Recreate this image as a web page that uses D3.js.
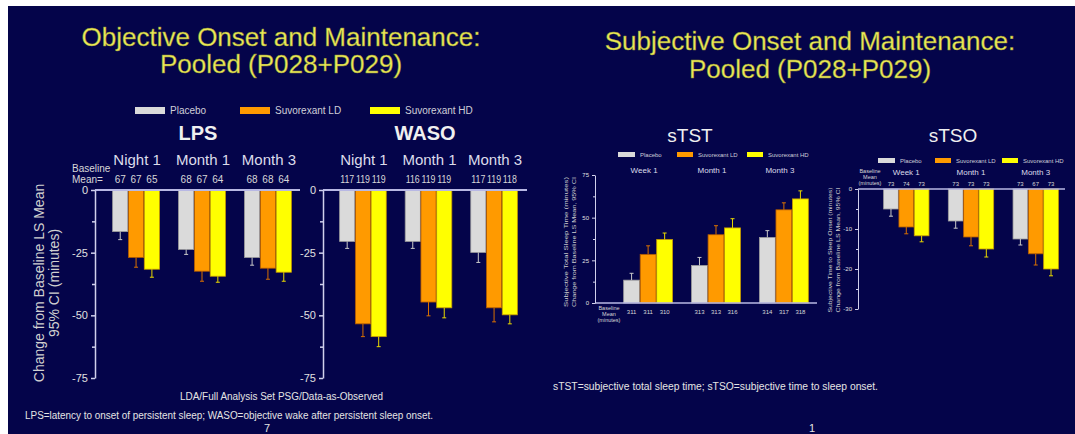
<!DOCTYPE html>
<html>
<head>
<meta charset="utf-8">
<script src="https://cdn.jsdelivr.net/npm/d3@7"></script>
<style>
  body { margin: 0; background: #ffffff; }
  svg { display: block; font-family: "Liberation Sans", Arial, sans-serif; }
</style>
</head>
<body>
<svg id="chart" width="1075" height="434"></svg>
<script>
// ---- data ----
const series = ["Placebo", "Suvorexant LD", "Suvorexant HD"];
const objPeriods = ["Night 1", "Month 1", "Month 3"];
const subjPeriods = ["Week 1", "Month 1", "Month 3"];

// LS mean change from baseline, one row per period: [placebo, LD, HD]
const lpsMean  = [[-16.6, -26.9, -31.6], [-23.7, -32.4, -34.4], [-26.9, -31.2, -32.8]];
const lpsCI    = [[-19.8, -30.8, -34.8], [-25.7, -36.4, -36.8], [-30.0, -35.6, -36.4]];
const lpsBase  = [["67", "67", "65"], ["68", "67", "64"], ["68", "68", "64"]];

const wasoMean = [[-20.5, -53.4, -58.5], [-20.5, -44.7, -47.0], [-24.9, -47.0, -49.8]];
const wasoCI   = [[-23.3, -58.5, -62.5], [-23.3, -50.2, -51.0], [-28.9, -52.6, -53.4]];
const wasoBase = [["117", "119", "119"], ["116", "119", "119"], ["117", "119", "118"]];

const tstMean  = [[13.4, 28.5, 37.2], [22.0, 40.0, 44.0], [38.4, 54.6, 61.0]];
const tstCI    = [[17.4, 33.5, 41.0], [26.7, 45.3, 49.4], [42.4, 58.7, 65.7]];
const tstBase  = [["311", "311", "310"], ["313", "313", "316"], ["314", "317", "318"]];

const tsoMean  = [[-5.0, -9.5, -11.7], [-8.0, -12.0, -15.0], [-12.5, -16.2, -20.0]];
const tsoCI    = [[-6.8, -11.2, -13.2], [-9.8, -14.2, -17.0], [-14.0, -19.0, -21.7]];
const tsoBase  = [["73", "74", "73"], ["73", "73", "73"], ["73", "67", "73"]];

const objTicks = [0, -25, -50, -75];
const objMinor = [-12.5, -37.5, -62.5];
const tstTicks = [0, 25, 50, 75];
const tstMinor = [12.5, 37.5, 62.5];
const tsoTicks = [0, -10, -20, -30];
const tsoMinor = [-5, -15, -25];

// ---- styling ----
const fills   = ["#dadada", "#ff9a00", "#ffff00"];
const edges   = ["#9c9c9c", "#b05a00", "#c89a00"];
const whisker = ["#c8c8c8", "#d87000", "#e8d800"];
const navy = "#04044a";
const axisCol = "#d0d0ec";

const svg = d3.select("#chart");

// slide background with the thin white scan border
svg.append("rect").attr("width", 1075).attr("height", 434).attr("fill", "#ffffff");
svg.append("rect").attr("x", 8).attr("y", 6).attr("width", 1067).attr("height", 428).attr("fill", navy);

// titles
function title(lines, cx, ys) {
  lines.forEach((t, i) => {
    svg.append("text")
      .attr("x", cx).attr("y", ys[i])
      .attr("text-anchor", "middle")
      .attr("font-size", 26)
      .attr("fill", "#ecea58")
      .attr("stroke", "#8a8a30").attr("stroke-width", 0.4)
      .text(t);
  });
}
title(["Objective Onset and Maintenance:", "Pooled (P028+P029)"], 281, [46, 73]);
title(["Subjective Onset and Maintenance:", "Pooled (P028+P029)"], 810, [50, 78]);

// legends
function legend(items) {
  items.forEach((d, i) => {
    svg.append("rect")
      .attr("x", d.x).attr("y", d.y).attr("width", d.w).attr("height", d.h)
      .attr("fill", fills[i]);
    svg.append("text")
      .attr("x", d.x + d.w + 5).attr("y", d.y + d.h)
      .attr("font-size", d.fs).attr("fill", "#cfcfd8")
      .text(series[i]);
  });
}
legend([{ x: 135, y: 107, w: 30, h: 7, fs: 10 }, { x: 240, y: 107, w: 30, h: 7, fs: 10 }, { x: 370, y: 107, w: 30, h: 7, fs: 10 }]);
legend([{ x: 618, y: 152, w: 17, h: 5, fs: 6 }, { x: 677, y: 152, w: 16, h: 5, fs: 6 }, { x: 747, y: 152, w: 16, h: 5, fs: 6 }]);
legend([{ x: 878, y: 158, w: 17, h: 5, fs: 6 }, { x: 935, y: 158, w: 16, h: 5, fs: 6 }, { x: 1002, y: 158, w: 16, h: 5, fs: 6 }]);

// one bar panel
function drawPanel(p) {
  const y = d3.scaleLinear().domain(p.yDomain).range(p.yRange);
  const x = d3.scaleBand().domain(p.periods).range(p.xRange).paddingInner(p.gap).paddingOuter(0);
  const xs = d3.scaleBand().domain(series).range([0, x.bandwidth()]).padding(0.04);

  const g = svg.append("g");

  // panel name and period labels
  g.append("text")
    .attr("x", p.nameX).attr("y", p.nameY)
    .attr("text-anchor", "middle")
    .attr("font-size", p.nameSize).attr("font-weight", p.nameWeight)
    .attr("fill", "#f0f0f0")
    .text(p.name);

  g.selectAll(".period").data(p.periods).join("text")
    .attr("x", d => x(d) + x.bandwidth() / 2 + p.periodDx)
    .attr("y", p.periodY)
    .attr("text-anchor", "middle")
    .attr("font-size", p.periodSize)
    .attr("fill", "#dcdcea")
    .text(d => d);

  // baseline means
  p.periods.forEach((per, i) => {
    series.forEach((s, j) => {
      const lbl = p.base[i][j];
      g.append("text")
        .attr("x", x(per) + xs(s) + xs.bandwidth() / 2)
        .attr("y", p.baseY)
        .attr("text-anchor", "middle")
        .attr("font-size", p.baseSize)
        .attr("fill", "#d8d8d8")
        .attr("textLength", lbl.length > 2 && p.baseLen ? p.baseLen : null)
        .attr("lengthAdjust", "spacingAndGlyphs")
        .text(lbl);
    });
  });

  // bars with CI whiskers
  p.periods.forEach((per, i) => {
    series.forEach((s, j) => {
      const v = p.mean[i][j];
      const bx = x(per) + xs(s);
      g.append("rect")
        .attr("x", bx).attr("width", xs.bandwidth())
        .attr("y", Math.min(y(0), y(v)))
        .attr("height", Math.abs(y(v) - y(0)))
        .attr("fill", fills[j])
        .attr("stroke", edges[j]).attr("stroke-width", 0.8);
      const cx = bx + xs.bandwidth() / 2;
      const c = p.ci[i][j];
      g.append("line")
        .attr("x1", cx).attr("x2", cx)
        .attr("y1", y(v)).attr("y2", y(c))
        .attr("stroke", whisker[j]).attr("stroke-width", 1);
      g.append("line")
        .attr("x1", cx - 2).attr("x2", cx + 2)
        .attr("y1", y(c)).attr("y2", y(c))
        .attr("stroke", whisker[j]).attr("stroke-width", 1);
    });
  });

  // zero line
  g.append("line")
    .attr("x1", p.axisX).attr("x2", p.zeroEnd)
    .attr("y1", y(0)).attr("y2", y(0))
    .attr("stroke", "#b8b8e4").attr("stroke-width", p.zeroWidth);

  // y axis
  const ax = g.append("g").attr("transform", `translate(${p.axisX},0)`);
  ax.call(d3.axisLeft(y).tickValues(p.ticks).tickSize(p.tickLen).tickSizeOuter(0).tickFormat(d => String(d)));
  ax.append("g").call(d3.axisLeft(y).tickValues(p.minor).tickSize(p.tickLen - 1).tickFormat(""))
    .select(".domain").remove();
  ax.selectAll("path, line").attr("stroke", axisCol).attr("stroke-width", p.axisWidth);
  ax.selectAll("text")
    .attr("fill", "#e0e0e0")
    .attr("font-size", p.tickSize)
    .attr("font-family", "Liberation Sans, Arial, sans-serif");

  return { x, y };
}

drawPanel({
  name: "LPS", nameX: 198, nameY: 140, nameSize: 20, nameWeight: "bold",
  periods: objPeriods, periodY: 165, periodSize: 15, periodDx: 1,
  mean: lpsMean, ci: lpsCI, base: lpsBase, baseY: 183, baseSize: 10,
  yDomain: [-75, 0], yRange: [378, 190], ticks: objTicks, minor: objMinor,
  xRange: [112, 292], gap: 0.27, axisX: 95, zeroEnd: 300,
  tickLen: 4, tickSize: 11, axisWidth: 1.5, zeroWidth: 2
});
drawPanel({
  name: "WASO", nameX: 425, nameY: 140, nameSize: 20, nameWeight: "bold",
  periods: objPeriods, periodY: 165, periodSize: 15, periodDx: 1,
  mean: wasoMean, ci: wasoCI, base: wasoBase, baseY: 183, baseSize: 10, baseLen: 14,
  yDomain: [-75, 0], yRange: [378, 190], ticks: objTicks, minor: objMinor,
  xRange: [339, 518], gap: 0.27, axisX: 323, zeroEnd: 527,
  tickLen: 4, tickSize: 11, axisWidth: 1.5, zeroWidth: 2
});
drawPanel({
  name: "sTST", nameX: 690, nameY: 142, nameSize: 19, nameWeight: "normal",
  periods: subjPeriods, periodY: 173, periodSize: 8, periodDx: -4,
  mean: tstMean, ci: tstCI, base: tstBase, baseY: 314, baseSize: 6,
  yDomain: [0, 75], yRange: [303, 175], ticks: tstTicks, minor: tstMinor,
  xRange: [623, 809], gap: 0.26, axisX: 595, zeroEnd: 817,
  tickLen: 3, tickSize: 6, axisWidth: 1, zeroWidth: 1.5
});
drawPanel({
  name: "sTSO", nameX: 953, nameY: 142, nameSize: 19, nameWeight: "normal",
  periods: subjPeriods, periodY: 175, periodSize: 8, periodDx: 0,
  mean: tsoMean, ci: tsoCI, base: tsoBase, baseY: 186, baseSize: 6,
  yDomain: [-30, 0], yRange: [309, 189], ticks: tsoTicks, minor: tsoMinor,
  xRange: [883, 1059], gap: 0.28, axisX: 858, zeroEnd: 1065,
  tickLen: 3, tickSize: 6, axisWidth: 1, zeroWidth: 1.5
});

// "Baseline Mean" captions
function caption(lines, x, ys, size, anchor) {
  lines.forEach((t, i) => {
    svg.append("text")
      .attr("x", x).attr("y", ys[i])
      .attr("text-anchor", anchor)
      .attr("font-size", size)
      .attr("fill", "#d8d8d8")
      .text(t);
  });
}
caption(["Baseline", "Mean="], 72, [172, 183], 10, "start");
caption(["Baseline", "Mean", "(minutes)"], 609, [310, 316, 322], 5.5, "middle");
caption(["Baseline", "Mean", "(minutes)"], 870, [173, 179, 185], 5.5, "middle");

// rotated y-axis titles
function yTitle(lines, xs, cy, size, len) {
  lines.forEach((t, i) => {
    svg.append("text")
      .attr("transform", `translate(${xs[i]},${cy}) rotate(-90)`)
      .attr("text-anchor", "middle")
      .attr("font-size", size)
      .attr("fill", "#d0d0d0")
      .attr("textLength", len ? len[i] : null)
      .attr("lengthAdjust", "spacingAndGlyphs")
      .text(t);
  });
}
yTitle(["Change from Baseline LS Mean", "95% CI (minutes)"], [44, 59], 283, 14);
yTitle(["Subjective Total Sleep Time (minutes)", "Change from Baseline LS Mean, 95% CI"], [568, 576], 242, 6, [130, 130]);
yTitle(["Subjective Time to Sleep Onset (minutes)", "Change from Baseline LS Mean, 95% CI"], [832, 840], 250, 6, [125, 125]);

// footnotes
function note(t, x, yPos, size, anchor, len) {
  svg.append("text")
    .attr("x", x).attr("y", yPos)
    .attr("text-anchor", anchor)
    .attr("font-size", size)
    .attr("fill", "#e4e4e4")
    .attr("textLength", len || null)
    .attr("lengthAdjust", "spacingAndGlyphs")
    .text(t);
}
note("LDA/Full Analysis Set PSG/Data-as-Observed", 180, 400, 11, "start", 203);
note("LPS=latency to onset of persistent sleep; WASO=objective wake after persistent sleep onset.", 25, 419, 10, "start", 408);
note("7", 267, 432, 11, "middle");
note("sTST=subjective total sleep time; sTSO=subjective time to sleep onset.", 553, 390, 10, "start", 325);
note("1", 812, 432, 11, "middle");
</script>
</body>
</html>
